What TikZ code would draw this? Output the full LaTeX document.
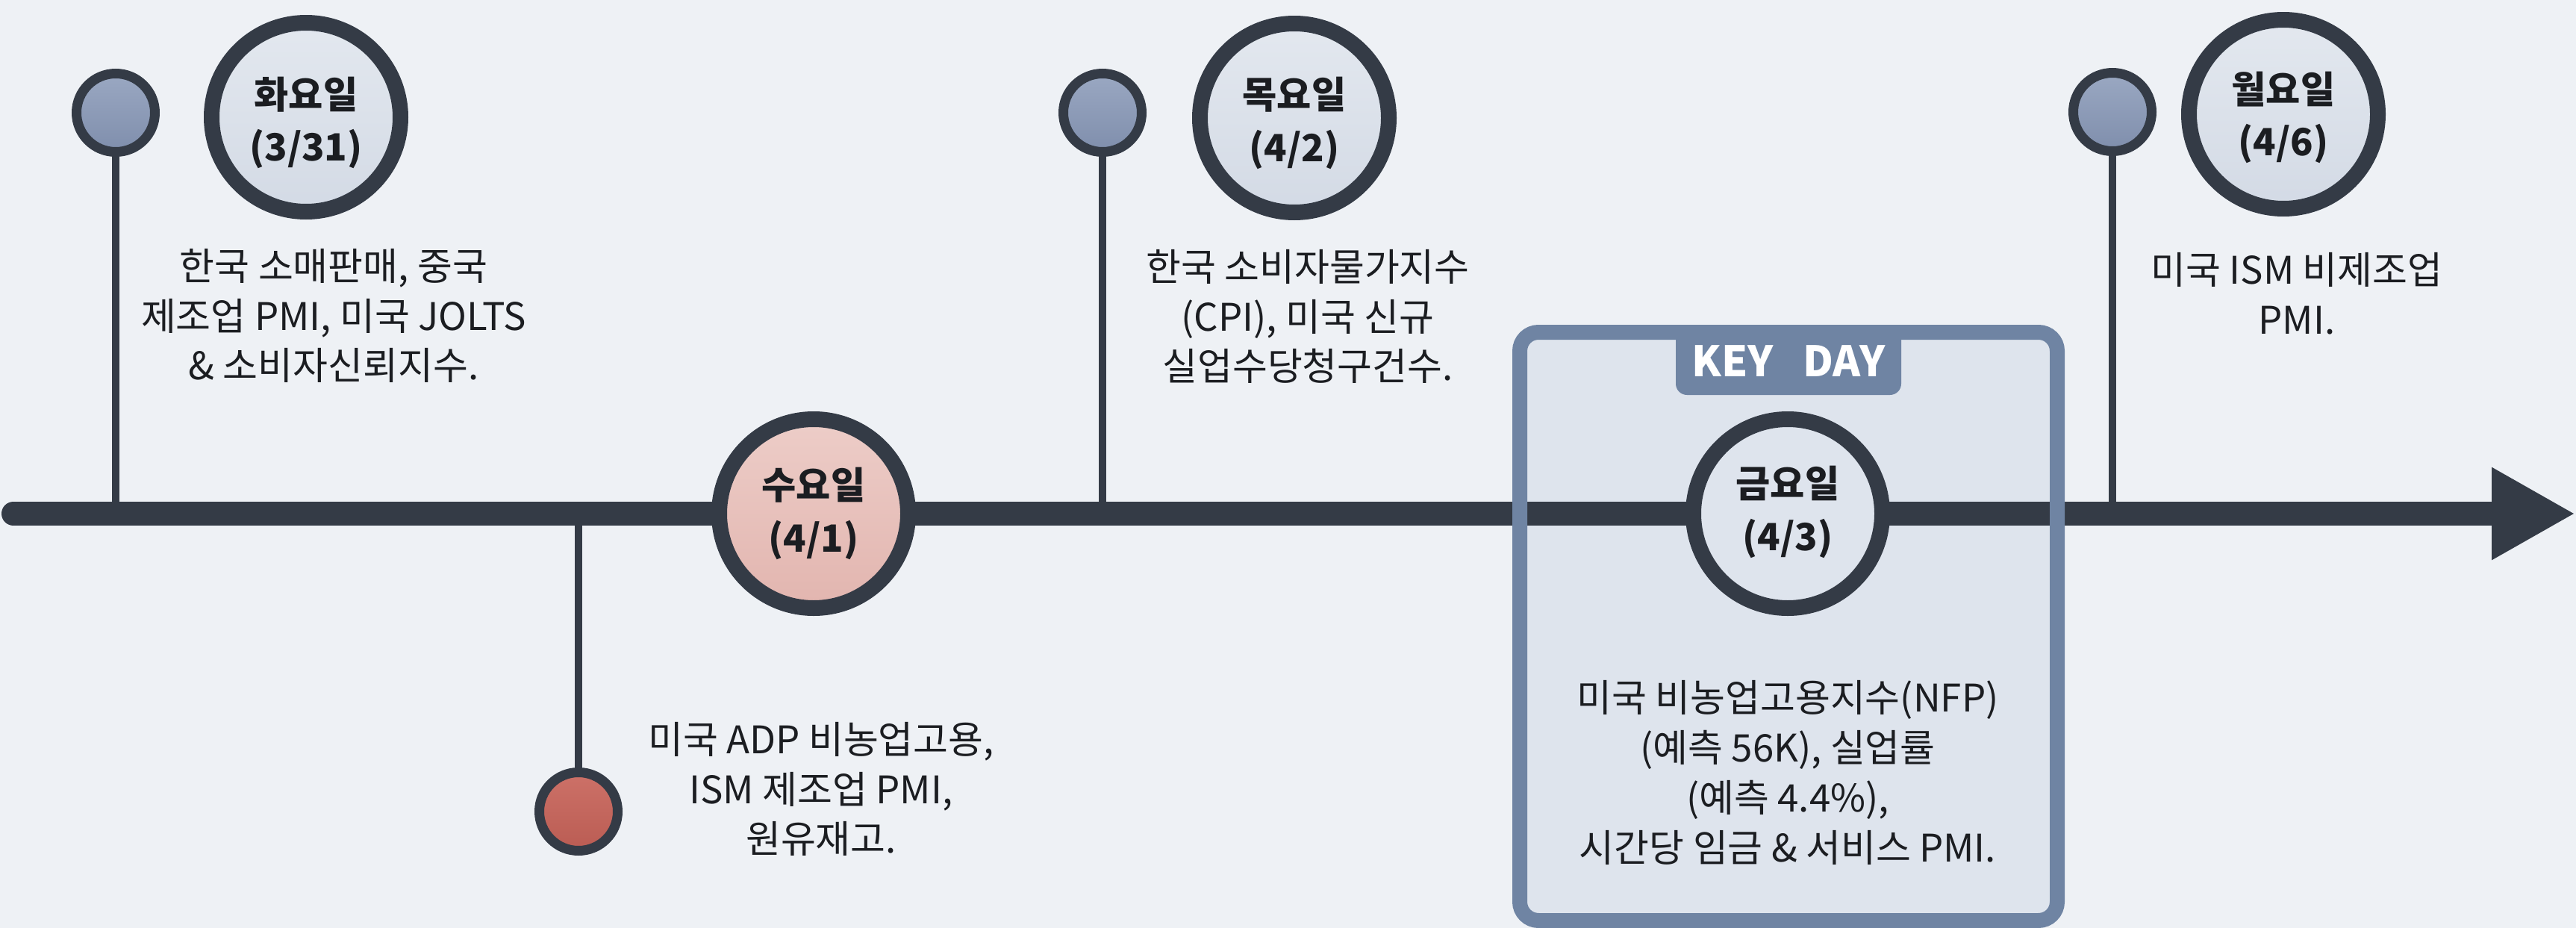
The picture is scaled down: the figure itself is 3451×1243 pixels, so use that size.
\documentclass[tikz,border=0pt]{standalone}
\usepackage{fontspec}
\setmainfont{Noto Sans CJK KR}
\usetikzlibrary{arrows.meta}
\definecolor{bgc}{HTML}{EEF1F5}
\definecolor{dark}{HTML}{343B46}
\definecolor{pintop}{HTML}{9AA8C2}
\definecolor{pinbot}{HTML}{7F8EAC}
\definecolor{bigtop}{HTML}{E3E8EF}
\definecolor{bigbot}{HTML}{D3DAE5}
\definecolor{pinktop}{HTML}{EDCDC8}
\definecolor{pinkbot}{HTML}{E2B5AF}
\definecolor{redtop}{HTML}{CD7168}
\definecolor{redbot}{HTML}{BA5C53}
\definecolor{keyc}{HTML}{6F84A3}
\definecolor{keyfill}{HTML}{DEE4ED}
\definecolor{txt}{HTML}{1B1D21}
\begin{document}
\begin{tikzpicture}[x=0.1mm,y=-0.1mm,
  pin/.style={circle, draw=dark, line width=1.3mm, top color=pintop, bottom color=pinbot, minimum size=10.5mm, inner sep=0},
  redpin/.style={pin, top color=redtop, bottom color=redbot},
  daycircle/.style={circle, draw=dark, line width=2.1mm, top color=bigtop, bottom color=bigbot, minimum size=25.3mm, inner sep=0},
  pinkcircle/.style={daycircle, top color=pinktop, bottom color=pinkbot},
  keycircle/.style={daycircle, top color=keyfill, bottom color=keyfill},
  daytitle/.style={align=center, font=\fontsize{14.3}{20}\selectfont\bfseries, text=txt, inner sep=0},
  desc/.style={align=center, font=\fontsize{14.5}{19}\selectfont, text=txt, inner sep=0},
  stem/.style={draw=dark, line width=1mm},
  timeline/.style={draw=dark, line width=3.2mm, line cap=round, -{Triangle[length=11.2mm,width=11.6mm]}},
  keyframe/.style={draw=keyc, line width=2mm, rounded corners=2.5mm},
]
\fill[bgc] (0,0) rectangle (3451,1243);
\useasboundingbox (0,0) rectangle (3451,1243);

% key day box (fill)
\node[fill=keyfill, rounded corners=2.5mm, minimum width=72mm, minimum height=78.8mm, inner sep=0, outer sep=0] (keybox) at (2396,839) {};

% timeline
\coordinate (tls) at (18,688);
\coordinate (tle) at (3450,688);
\draw[timeline] (tls) -- (tle);

% pins
\node[pin] (p1) at (155,151) {};
\node[pin] (p2) at (1477,151) {};
\node[pin] (p3) at (2830,150) {};
\node[redpin] (pw) at (775,1087) {};
\draw[stem] (p1.south) -- (p1.south |- tls);
\draw[stem] (p2.south) -- (p2.south |- tls);
\draw[stem] (p3.south) -- (p3.south |- tls);
\draw[stem] (pw.north |- tls) -- (pw.north);

% day circles
\node[daycircle] (d1) at (410,157) {};
\node[pinkcircle] (d2) at (1090,688) {};
\node[daycircle] (d3) at (1734,158) {};
\node[keycircle] (d4) at (2395,688) {};
\node[daycircle] (d5) at (3059,153) {};
\node[daytitle] (d1t) at ([yshift=-2.2pt]d1.center) {화요일\\(3/31)};
\node[daytitle] (d2t) at (d2.center) {수요일\\(4/1)};
\node[daytitle] (d3t) at ([yshift=-2pt]d3.center) {목요일\\(4/2)};
\node[daytitle] (d4t) at ([yshift=0.6pt]d4.center) {금요일\\(4/3)};
\node[daytitle] (d5t) at ([yshift=-1.2pt]d5.center) {월요일\\(4/6)};

% key day frame over timeline
\draw[keyframe] (keybox.north west) rectangle (keybox.south east);
\node[fill=keyc, rounded corners=1.5mm, minimum width=30.2mm, minimum height=9mm, inner sep=0, text=white, font=\fontsize{16}{16}\selectfont\bfseries] (tab) at (2396,484) {KEY\hspace{0.7em}DAY};

% descriptions
\node[desc] (t1) at (447,423) {한국 소매판매, 중국\\제조업 PMI, 미국 JOLTS\\\& 소비자신뢰지수.};
\node[desc] (t2) at (1100,1057) {미국 ADP 비농업고용,\\ISM 제조업 PMI,\\원유재고.};
\node[desc] (t3) at (1752,424) {한국 소비자물가지수\\(CPI), 미국 신규\\실업수당청구건수.};
\node[desc] (t4) at (2395,1035) {미국 비농업고용지수(NFP)\\(예측 56K), 실업률\\(예측 4.4\%),\\시간당 임금 \& 서비스 PMI.};
\node[desc] (t5) at (3077,393) {미국 ISM 비제조업\\PMI.};
\end{tikzpicture}
\end{document}
